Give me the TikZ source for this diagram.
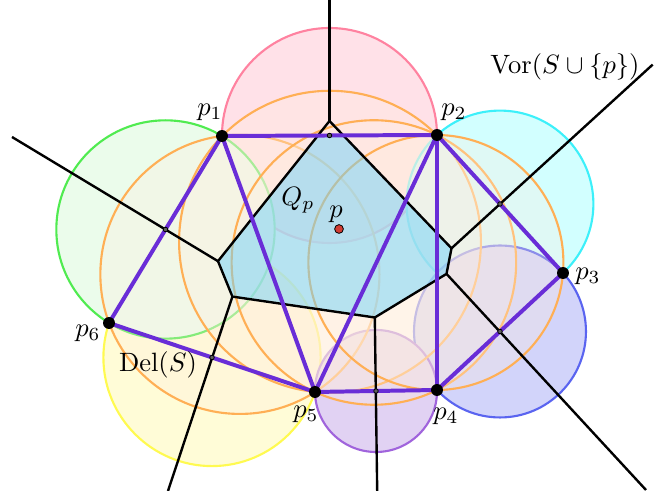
\documentclass[tikz,border=0pt]{standalone}
\usetikzlibrary{calc}
\definecolor{pinkC}{RGB}{255,130,160}
\definecolor{greenC}{RGB}{80,235,80}
\definecolor{cyanC}{RGB}{60,240,250}
\definecolor{blueC}{RGB}{90,100,240}
\definecolor{purpC}{RGB}{160,100,220}
\definecolor{yellC}{RGB}{255,250,80}
\definecolor{pinkF}{RGB}{255,225,232}
\definecolor{greenF}{RGB}{235,252,235}
\definecolor{cyanF}{RGB}{210,255,255}
\definecolor{blueF}{RGB}{210,212,250}
\definecolor{purpF}{RGB}{225,210,243}
\definecolor{yellF}{RGB}{255,252,215}
\definecolor{orC}{RGB}{255,175,85}
\definecolor{orF}{RGB}{255,238,222}
\definecolor{delC}{RGB}{105,45,215}
\definecolor{qpC}{RGB}{110,210,250}
\definecolor{redC}{RGB}{210,60,50}
\definecolor{midC}{RGB}{95,95,95}
\begin{document}
\begin{tikzpicture}[x=0.377pt,y=-0.377pt,
  dcirc/.style 2 args={draw=#1, fill=#2, line width=0.8pt},
  ocirc/.style={draw=orC, fill=orF, fill opacity=0.3, line width=0.8pt},
  vor/.style={line width=0.9pt, black, line join=round},
  del/.style={line width=1.5pt, delC, line cap=round, line join=round},
  middot/.style={circle, fill=midC, draw=black, line width=0.3pt, inner sep=0pt, minimum size=1.7pt},
  ptdot/.style={circle, fill=black, inner sep=0pt, minimum size=4.5pt},
  pdot/.style={circle, fill=redC, draw=black, line width=0.3pt, inner sep=0pt, minimum size=3.3pt},
  lab/.style={inner sep=0pt}]
\useasboundingbox (0,0) rectangle (658,491);
% sites
\coordinate (p1) at (222,136);
\coordinate (p2) at (437,135);
\coordinate (p3) at (563,273);
\coordinate (p4) at (437,390);
\coordinate (p5) at (315,392);
\coordinate (p6) at (109,323);
\coordinate (p) at (339,229);
% midpoints of hull edges
\coordinate (m12) at ($(p1)!0.5!(p2)$);
\coordinate (m23) at ($(p2)!0.5!(p3)$);
\coordinate (m34) at ($(p3)!0.5!(p4)$);
\coordinate (m45) at ($(p4)!0.5!(p5)$);
\coordinate (m56) at ($(p5)!0.5!(p6)$);
\coordinate (m61) at ($(p6)!0.5!(p1)$);
% diametral circles
\path[dcirc={pinkC}{pinkF}] let \p1=($(p2)-(m12)$), \n1={veclen(\x1,\y1)} in (m12) circle[radius=\n1];
\path[dcirc={yellC}{yellF}] let \p1=($(p5)-(m56)$), \n1={veclen(\x1,\y1)} in (m56) circle[radius=\n1];
\path[dcirc={greenC}{greenF}] let \p1=($(p1)-(m61)$), \n1={veclen(\x1,\y1)} in (m61) circle[radius=\n1];
\path[dcirc={cyanC}{cyanF}] let \p1=($(p2)-(m23)$), \n1={veclen(\x1,\y1)} in (m23) circle[radius=\n1];
\path[dcirc={blueC}{blueF}] let \p1=($(p3)-(m34)$), \n1={veclen(\x1,\y1)} in (m34) circle[radius=\n1];
\path[dcirc={purpC}{purpF}] let \p1=($(p4)-(m45)$), \n1={veclen(\x1,\y1)} in (m45) circle[radius=\n1];
% circumcircles of Del(S) triangles
\coordinate (c1) at (239.9,274.4);
\coordinate (c2) at (330.0,241.7);
\coordinate (c3) at (373.9,262.5);
\coordinate (c4) at (435.9,262.5);
\path[ocirc] let \p1=($(p1)-(c1)$), \n1={veclen(\x1,\y1)} in (c1) circle[radius=\n1];
\path[ocirc] let \p1=($(p1)-(c2)$), \n1={veclen(\x1,\y1)} in (c2) circle[radius=\n1];
\path[ocirc] let \p1=($(p2)-(c3)$), \n1={veclen(\x1,\y1)} in (c3) circle[radius=\n1];
\path[ocirc] let \p1=($(p2)-(c4)$), \n1={veclen(\x1,\y1)} in (c4) circle[radius=\n1];
% Voronoi vertices of Q_p
\coordinate (vt) at (329.5,121);
\coordinate (vr) at (451.5,248.3);
\coordinate (vbr) at (446.5,273.9);
\coordinate (vb) at (374.8,317.5);
\coordinate (vbl) at (232.4,296.6);
\coordinate (vl) at (218.0,261.2);
% free ends
\coordinate (et) at (329.5,0);
\coordinate (er) at (652.7,64.6);
\coordinate (ebr) at (646,490);
\coordinate (eb) at (377.2,491);
\coordinate (ebl) at (168,491);
\coordinate (el) at (12,137);
% Q_p fill
\begin{scope}
\clip (p1) -- (p2) -- (658,135) -- (658,491) -- (0,491) -- (0,136) -- cycle;
\fill[qpC, fill opacity=0.5] (vt) -- (vr) -- (vbr) -- (vb) -- (vbl) -- (vl) -- cycle;
\end{scope}
% Voronoi diagram
\draw[vor] (vt) -- (vr) -- (vbr) -- (vb) -- (vbl) -- (vl) -- cycle;
\draw[vor] (vt) -- (et);
\draw[vor] (vr) -- (er);
\draw[vor] (vbr) -- (ebr);
\draw[vor] (vb) -- (eb);
\draw[vor] (vbl) -- (ebl);
\draw[vor] (vl) -- (el);
% Delaunay triangulation
\draw[del] (p1) -- (p2) -- (p3) -- (p4) -- (p5) -- (p6) -- cycle;
\draw[del] (p1) -- (p5);
\draw[del] (p2) -- (p5);
\draw[del] (p2) -- (p4);
% midpoint dots
\node[middot] (d12) at (m12) {};
\node[middot] (d23) at (m23) {};
\node[middot] (d34) at (m34) {};
\node[middot] (d45) at (m45) {};
\node[middot] (d56) at (m56) {};
\node[middot] (d61) at (m61) {};
% sites
\node[ptdot] (P1) at (p1) {};
\node[ptdot] (P2) at (p2) {};
\node[ptdot] (P3) at (p3) {};
\node[ptdot] (P4) at (p4) {};
\node[ptdot] (P5) at (p5) {};
\node[ptdot] (P6) at (p6) {};
\node[pdot] (P) at (p) {};
% labels
\node[lab] (l1) at (210,112) {$p_1$};
\node[lab] (l2) at (454,112) {$p_2$};
\node[lab] (l3) at (588,276) {$p_3$};
\node[lab] (l4) at (446,416) {$p_4$};
\node[lab] (l5) at (306,414) {$p_5$};
\node[lab] (l6) at (88,333) {$p_6$};
\node[lab] (lp) at (336,214) {$p$};
\node[lab] (lq) at (298,200) {$Q_p$};
\node[lab] (ld) at (158,365) {$\mathrm{Del}(S)$};
\node[lab] (lv) at (565,67) {$\mathrm{Vor}(S\cup\{p\})$};
\end{tikzpicture}
\end{document}
